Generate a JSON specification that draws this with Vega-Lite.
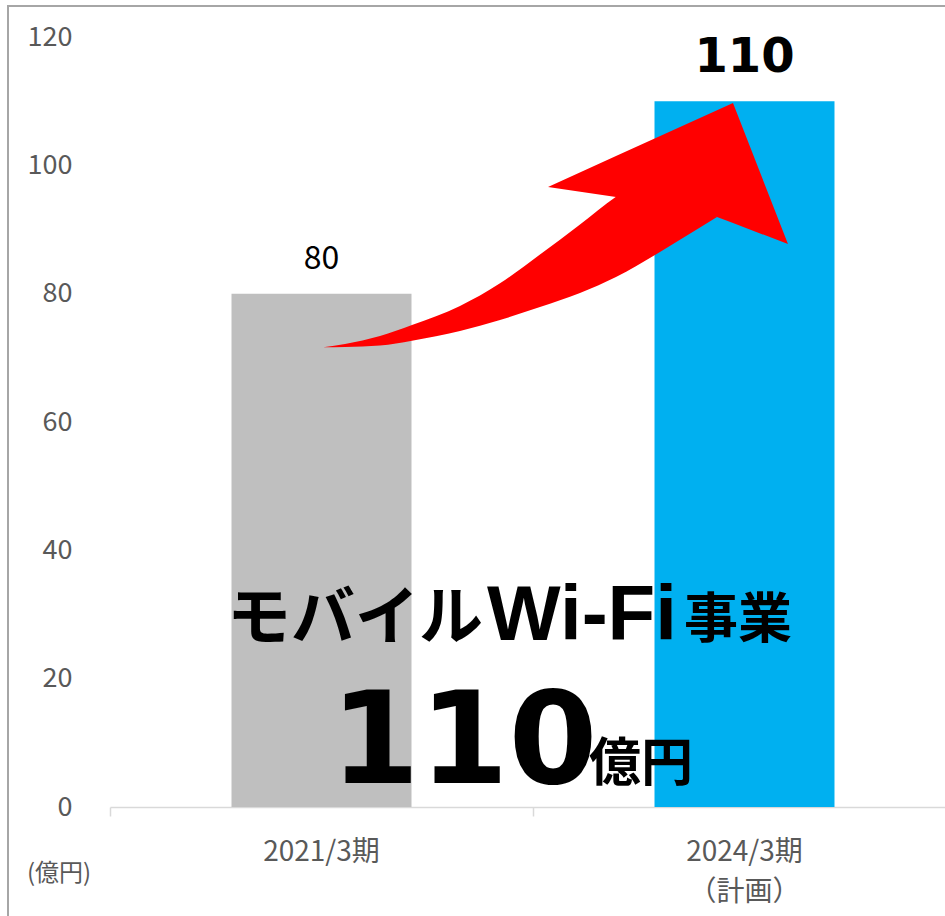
{
  "$schema": "https://vega.github.io/schema/vega-lite/v6.json",
  "autosize": "none",
  "padding": {"left": 8, "top": 6, "right": 0, "bottom": 0},
  "width": 938,
  "height": 911,
  "background": "white",
  "config": {
    "font": "Noto Sans CJK JP",
    "view": {"stroke": "#a6a6a6", "strokeWidth": 2}
  },
  "datasets": {
    "bars": [
      {"period": "2021/3期", "value": 80},
      {"period": "2024/3期\n（計画）", "value": 110}
    ],
    "arrow": [
      {"part": "shaft", "ax": 0.5043, "ay": 71.64, "ay2": 71.64},
      {"part": "shaft", "ax": 0.5556, "ay": 72.16, "ay2": 71.69},
      {"part": "shaft", "ax": 0.6383, "ay": 73.40, "ay2": 71.92},
      {"part": "shaft", "ax": 0.7139, "ay": 75.12, "ay2": 72.67},
      {"part": "shaft", "ax": 0.8274, "ay": 78.08, "ay2": 74.18},
      {"part": "shaft", "ax": 0.9220, "ay": 81.62, "ay2": 75.90},
      {"part": "shaft", "ax": 1.0165, "ay": 86.10, "ay2": 77.92},
      {"part": "shaft", "ax": 1.1111, "ay": 90.78, "ay2": 80.10},
      {"part": "shaft", "ax": 1.1962, "ay": 95.11, "ay2": 82.60},
      {"part": "shaft", "ax": 1.3002, "ay": 99.00, "ay2": 86.49},
      {"part": "shaft", "ax": 1.3948, "ay": 93.50, "ay2": 90.30},
      {"part": "shaft", "ax": 1.4350, "ay": 91.95, "ay2": 91.95},
      {"part": "head", "ax": 1.0355, "ay": 96.62, "ay2": 96.62},
      {"part": "head", "ax": 1.1962, "ay": 101.44, "ay2": 95.06},
      {"part": "head", "ax": 1.4350, "ay": 108.58, "ay2": 91.95},
      {"part": "head", "ax": 1.4728, "ay": 109.71, "ay2": 91.00},
      {"part": "head", "ax": 1.6028, "ay": 87.74, "ay2": 87.74}
    ],
    "notes": [
      {"text": "モバイル", "ax": 0.2766, "ay": 26.18},
      {"text": "Wi-Fi", "ax": 0.8913, "ay": 26.03},
      {"text": "事業", "ax": 1.357, "ay": 26.34},
      {"text": "110", "ax": 0.8369, "ay": 3.74},
      {"text": "億円", "ax": 1.2553, "ay": 4.05}
    ]
  },
  "layer": [
    {
      "data": {"name": "bars"},
      "encoding": {
        "x": {
          "field": "period", "type": "nominal", "sort": null,
          "scale": {"type": "band", "paddingInner": 0, "paddingOuter": 0, "range": [102, 948]},
          "axis": {
            "title": null, "orient": "bottom", "offset": -110, "bandPosition": 0,
            "domainColor": "#d9d9d9", "domainWidth": 1.5,
            "tickColor": "#d9d9d9", "tickWidth": 1.5, "tickSize": 9,
            "labelAngle": 0, "labelFontSize": 28, "labelColor": "#595959",
            "labelPadding": 22, "labelLineHeight": 40, "labelBaseline": "top",
            "labelExpr": "split(datum.label, '\\n')", "grid": false
          }
        },
        "y": {
          "field": "value", "type": "quantitative", "title": "(億円)",
          "scale": {"domain": [0, 120], "range": [801, 31], "nice": false, "zero": true},
          "axis": {
            "title": "(億円)", "orient": "left", "values": [0, 20, 40, 60, 80, 100, 120],
            "domain": false, "ticks": false, "grid": false,
            "labelFontSize": 27, "labelColor": "#595959", "labelAlign": "right",
            "labelBaseline": "middle", "labelPadding": -64,
            "titleAngle": 0, "titleX": 50.5, "titleY": 867, "titleAlign": "center",
            "titleBaseline": "middle", "titleFontSize": 24, "titleFontWeight": "normal",
            "titleColor": "#595959"
          }
        }
      },
      "layer": [
        {
          "mark": {"type": "bar", "width": {"band": 0.4255}},
          "encoding": {
            "color": {"field": "period", "type": "nominal", "scale": {"range": ["#bfbfbf", "#00b0f0"]}, "legend": null}
          }
        },
        {
          "transform": [{"filter": "datum.value == 80"}],
          "mark": {"type": "text", "fontSize": 32, "color": "#000000", "baseline": "alphabetic", "dy": -25},
          "encoding": {"text": {"field": "value"}}
        },
        {
          "transform": [{"filter": "datum.value == 110"}],
          "mark": {"type": "text", "font": "DejaVu Sans", "fontWeight": "bold", "fontSize": 48, "color": "#000000", "baseline": "alphabetic", "dy": -29},
          "encoding": {"text": {"field": "value"}}
        }
      ]
    },
    {
      "data": {"name": "arrow"},
      "transform": [{"filter": "datum.part == 'shaft'"}],
      "mark": {"type": "area", "color": "#ff0000", "interpolate": "monotone"},
      "encoding": {
        "x": {"field": "ax", "type": "quantitative", "scale": {"domain": [0, 2], "range": [102, 948], "nice": false, "zero": false}, "axis": null},
        "y": {"field": "ay", "type": "quantitative", "title": "(億円)", "stack": null},
        "y2": {"field": "ay2"}
      }
    },
    {
      "data": {"name": "arrow"},
      "transform": [{"filter": "datum.part == 'head'"}],
      "mark": {"type": "area", "color": "#ff0000", "interpolate": "linear"},
      "encoding": {
        "x": {"field": "ax", "type": "quantitative", "scale": {"domain": [0, 2], "range": [102, 948], "nice": false, "zero": false}, "axis": null},
        "y": {"field": "ay", "type": "quantitative", "title": "(億円)", "stack": null},
        "y2": {"field": "ay2"}
      }
    },
    {
      "data": {"name": "notes"},
      "transform": [{"filter": "datum.text == 'モバイル'"}],
      "mark": {"type": "text", "fontWeight": "bold", "fontSize": 64, "color": "#000000", "align": "left", "baseline": "alphabetic"},
      "encoding": {
        "x": {"field": "ax", "type": "quantitative", "scale": {"domain": [0, 2], "range": [102, 948], "nice": false, "zero": false}, "axis": null},
        "y": {"field": "ay", "type": "quantitative", "title": "(億円)"},
        "text": {"field": "text"}
      }
    },
    {
      "data": {"name": "notes"},
      "transform": [{"filter": "datum.text == 'Wi-Fi'"}],
      "mark": {"type": "text", "font": "Liberation Sans", "fontWeight": "bold", "fontSize": 78, "color": "#000000", "align": "left", "baseline": "alphabetic"},
      "encoding": {
        "x": {"field": "ax", "type": "quantitative", "scale": {"domain": [0, 2], "range": [102, 948], "nice": false, "zero": false}, "axis": null},
        "y": {"field": "ay", "type": "quantitative", "title": "(億円)"},
        "text": {"field": "text"}
      }
    },
    {
      "data": {"name": "notes"},
      "transform": [{"filter": "datum.text == '事業'"}],
      "mark": {"type": "text", "fontWeight": "bold", "fontSize": 54, "color": "#000000", "align": "left", "baseline": "alphabetic"},
      "encoding": {
        "x": {"field": "ax", "type": "quantitative", "scale": {"domain": [0, 2], "range": [102, 948], "nice": false, "zero": false}, "axis": null},
        "y": {"field": "ay", "type": "quantitative", "title": "(億円)"},
        "text": {"field": "text"}
      }
    },
    {
      "data": {"name": "notes"},
      "transform": [{"filter": "datum.text == '110'"}],
      "mark": {"type": "text", "font": "DejaVu Sans", "fontWeight": "bold", "fontSize": 128, "color": "#000000", "align": "center", "baseline": "alphabetic"},
      "encoding": {
        "x": {"field": "ax", "type": "quantitative", "scale": {"domain": [0, 2], "range": [102, 948], "nice": false, "zero": false}, "axis": null},
        "y": {"field": "ay", "type": "quantitative", "title": "(億円)"},
        "text": {"field": "text"}
      }
    },
    {
      "data": {"name": "notes"},
      "transform": [{"filter": "datum.text == '億円'"}],
      "mark": {"type": "text", "fontWeight": "bold", "fontSize": 52, "color": "#000000", "align": "center", "baseline": "alphabetic"},
      "encoding": {
        "x": {"field": "ax", "type": "quantitative", "scale": {"domain": [0, 2], "range": [102, 948], "nice": false, "zero": false}, "axis": null},
        "y": {"field": "ay", "type": "quantitative", "title": "(億円)"},
        "text": {"field": "text"}
      }
    }
  ],
  "resolve": {"scale": {"x": "independent"}}
}
